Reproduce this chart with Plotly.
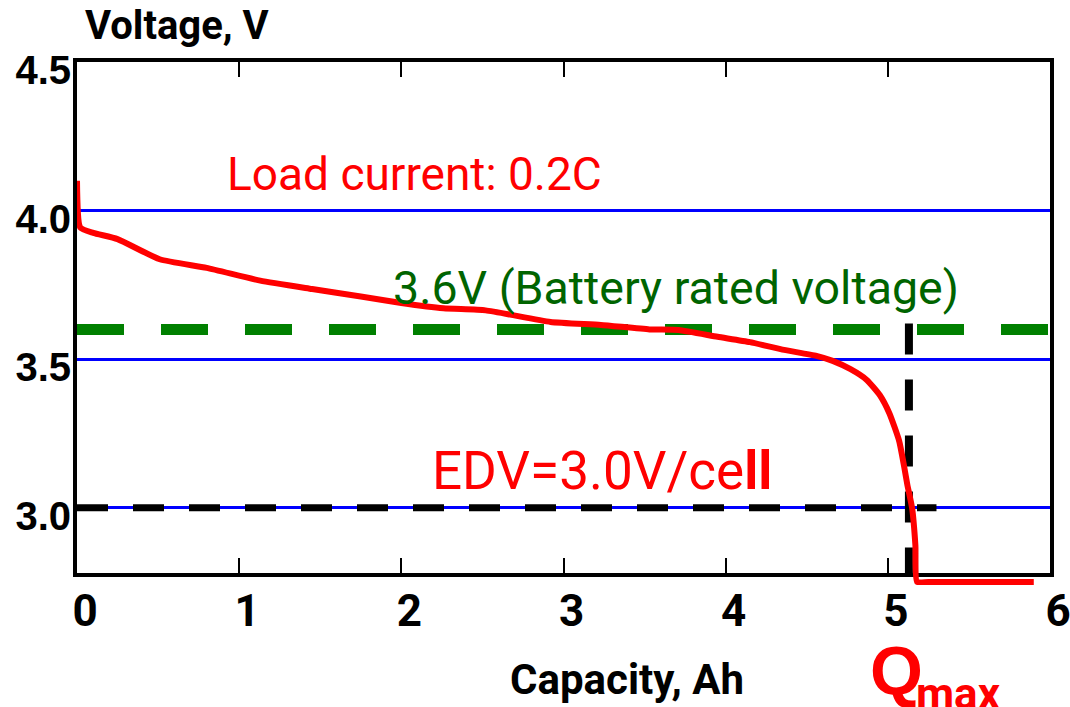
import plotly.graph_objects as go

# Discharge curve of a cell at 0.2C load
capacity_ah = [0.00, 0.02, 0.10, 0.25, 0.51, 0.80, 1.13, 1.45, 1.75, 2.00,
               2.26, 2.52, 2.92, 3.23, 3.53, 3.71, 3.95, 4.15, 4.35, 4.56,
               4.66, 4.77, 4.87, 4.95, 5.01, 5.07, 5.10, 5.12, 5.15, 5.17,
               5.18, 5.25, 5.90]
voltage_v = [4.10, 3.943, 3.925, 3.904, 3.836, 3.807, 3.764, 3.736, 3.711, 3.689,
             3.671, 3.664, 3.625, 3.615, 3.600, 3.598, 3.575, 3.557, 3.532, 3.511,
             3.494, 3.466, 3.430, 3.379, 3.317, 3.224, 3.140, 3.078, 2.997, 2.873,
             2.750, 2.750, 2.750]

rated_voltage = 3.6
edv_voltage = 3.0
q_max = 5.13
edv_line_end = 5.30

x_ticks = [0, 1, 2, 3, 4, 5, 6]
y_ticks = [3.0, 3.5, 4.0, 4.5]
y_tick_text = ["3.0", "3.5", "4.0", "4.5"]

# Page geometry (pixels)
W, H = 1070, 707
L, R, T = 77, 20, 62
AXIS_BOTTOM = 573          # y pixel of the framed x axis
EXTRA = 12                 # room under the frame for the curve's tail
B = H - (AXIS_BOTTOM + EXTRA)
plot_h = H - T - B

y_lo, y_hi = 2.78, 4.5
px_per_v = (AXIS_BOTTOM - T) / (y_hi - y_lo)
y2_lo = y_hi - plot_h / px_per_v

NARROW = "Roboto, Liberation Sans, sans-serif"
WIDE = "Liberation Sans, Arial, sans-serif"


def px(xp):
    return (xp - L) / (W - L - R)


def py(yp):
    return (H - B - yp) / plot_h


fig = go.Figure()

# 3.6 V rated-voltage line
fig.add_trace(go.Scatter(
    x=[0, 6], y=[rated_voltage, rated_voltage], mode="lines",
    line=dict(color="#008000", width=11, dash="47px,37px"),
    hoverinfo="skip", showlegend=False))

# End-of-discharge voltage line
fig.add_trace(go.Scatter(
    x=[0, edv_line_end], y=[edv_voltage, edv_voltage], mode="lines",
    line=dict(color="black", width=7, dash="31px,25px"),
    hoverinfo="skip", showlegend=False))

# Q_max marker line
fig.add_trace(go.Scatter(
    x=[q_max, q_max], y=[rated_voltage + 0.02, y_lo], mode="lines",
    line=dict(color="black", width=8, dash="31px,25px"),
    hoverinfo="skip", showlegend=False))

# Top frame edge with its inward ticks
fig.add_trace(go.Scatter(
    x=[0, 6], y=[y_hi, y_hi], xaxis="x2", yaxis="y", mode="lines",
    line=dict(width=0), hoverinfo="skip", showlegend=False))

# Discharge curve (on an axis that reaches slightly below the frame)
fig.add_trace(go.Scatter(
    x=capacity_ah, y=voltage_v, mode="lines", xaxis="x", yaxis="y2",
    line=dict(color="#ff0000", width=6, shape="spline", smoothing=0.5),
    hoverinfo="skip", showlegend=False))

tick_style = dict(ticks="inside", ticklen=15, tickwidth=2, tickcolor="black",
                  showline=True, linecolor="black", linewidth=4,
                  showgrid=False, zeroline=False, tickvals=x_ticks)

fig.update_layout(
    width=W, height=H,
    margin=dict(l=L, r=R, t=T, b=B, pad=0, autoexpand=False),
    paper_bgcolor="white", plot_bgcolor="rgba(0,0,0,0)",
    xaxis=dict(
        range=[0, 6], ticktext=[str(v) for v in x_ticks],
        anchor="y", mirror=False, ticklabeloverflow="allow", automargin=False,
        tickfont=dict(family=NARROW, size=44, color="black", weight="bold"),
        ticklabelshift=8, ticklabelstandoff=-4, **tick_style),
    xaxis2=dict(
        range=[0, 6], overlaying="x", side="top", anchor="y",
        showticklabels=False, automargin=False, **tick_style),
    yaxis=dict(
        range=[y_lo, y_hi], domain=[EXTRA / plot_h, 1],
        tickvals=y_ticks, ticktext=y_tick_text, automargin=False,
        showline=True, linecolor="black", linewidth=4, mirror=True,
        ticks="", showgrid=True, gridcolor="#0000ff", gridwidth=3,
        zeroline=False, ticklabelshift=8, ticklabelstandoff=-6,
        tickfont=dict(family=WIDE, size=40, color="black", weight="bold")),
    yaxis2=dict(
        range=[y2_lo, y_hi], domain=[0, 1], anchor="x", visible=False,
        showgrid=False, zeroline=False),
)

annotations = [
    dict(text="Voltage, V", x=px(83), y=py(26), size=40, color="black",
         family=NARROW, bold=True),
    dict(text="Load current: 0.2C", x=px(225), y=py(174), size=46,
         color="#ff0000", family=NARROW, bold=False),
    dict(text="3.6V (Battery rated voltage)", x=px(391), y=py(288), size=46.5,
         color="#006400", family=NARROW, bold=False),
    dict(text="EDV=3.0V/ce<b>ll</b>", x=px(430), y=py(471), size=53,
         color="#ff0000", family=NARROW, bold=False),
    dict(text="Capacity, Ah", x=px(508), y=py(679), size=42, color="black",
         family=NARROW, bold=True),
    dict(text="Q", x=px(868), y=py(670), size=68, color="#ff0000",
         family=WIDE, bold=True),
    dict(text="max", x=px(914), y=py(694), size=44, color="#ff0000",
         family=NARROW, bold=True),
]
for a in annotations:
    fig.add_annotation(
        text=a["text"], x=a["x"], y=a["y"], xref="paper", yref="paper",
        xanchor="left", yanchor="middle", showarrow=False,
        font=dict(family=a["family"], size=a["size"], color=a["color"],
                  weight="bold" if a["bold"] else "normal"))

fig.write_html("out.html")
